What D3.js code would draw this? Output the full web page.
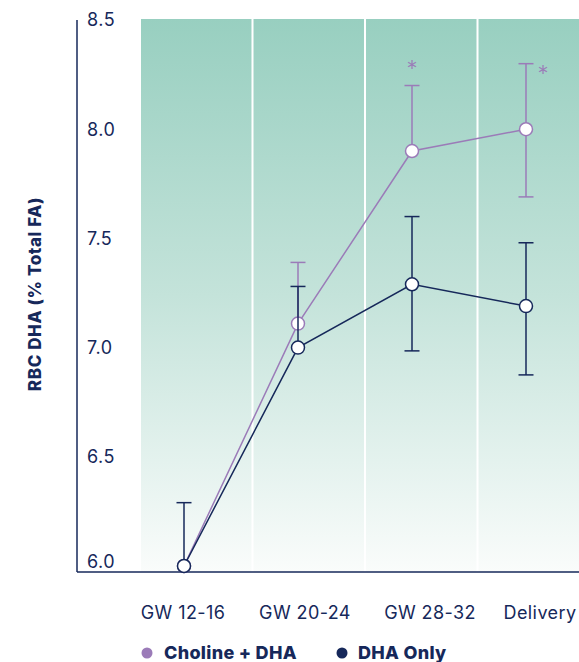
<!DOCTYPE html>
<html><head><meta charset="utf-8">
<script src="https://cdn.jsdelivr.net/npm/d3@7"></script>
<style>body{margin:0;background:#fff}svg{display:block}text{font-family:Inter,"Open Sans",sans-serif}</style>
</head><body><svg id="c" width="579" height="662"></svg>
<script>
const categories = ["GW 12-16","GW 20-24","GW 28-32","Delivery"];
const yTicks = [6.0,6.5,7.0,7.5,8.0,8.5];
const cholineMean = [6.0,7.11,7.90,8.00];
const cholineUpper = [null,7.39,8.20,8.30];
const cholineLower = [null,null,null,7.69];
const dhaMean = [6.0,7.0,7.29,7.19];
const dhaUpper = [6.29,7.28,7.60,7.48];
const dhaLower = [null,null,6.985,6.875];
const asterisks = [null,null,"*","*"];
const seriesNames = ["Choline + DHA","DHA Only"];

const navy="#16285a", purple="#9b7bb8";
const svg=d3.select("#c");
const y=d3.scaleLinear().domain([6,8.5]).range([566,20]);
const xPt=d3.scalePoint().domain(categories).range([184,526]);
const xBand=d3.scaleBand().domain(categories).range([141,589]).paddingInner(0.018);

const defs=svg.append("defs");
const g=defs.append("linearGradient").attr("id","bg").attr("gradientUnits","userSpaceOnUse")
  .attr("x1",0).attr("x2",0).attr("y1",19).attr("y2",572);
g.append("stop").attr("offset","0%").attr("stop-color","#98cfc0");
g.append("stop").attr("offset","50%").attr("stop-color","#c4e3da");
g.append("stop").attr("offset","80%").attr("stop-color","#e4f2ee");
g.append("stop").attr("offset","100%").attr("stop-color","#fafcfb");

svg.selectAll("rect.bg").data(categories).join("rect").attr("class","bg")
  .attr("x",d=>xBand(d)).attr("width",xBand.bandwidth())
  .attr("y",19).attr("height",572-19).attr("fill","url(#bg)");

// axes
svg.append("line").attr("x1",77).attr("x2",77).attr("y1",20).attr("y2",572).attr("stroke",navy).attr("stroke-width",1.5);
svg.append("line").attr("x1",77).attr("x2",579).attr("y1",572).attr("y2",572).attr("stroke",navy).attr("stroke-width",1.5);
svg.selectAll("text.yt").data(yTicks).join("text").attr("class","yt")
  .attr("x",87).attr("y",d=>y(d)-(d===6?4:0)).attr("dy","0.35em").attr("fill",navy).attr("font-size",18)
  .attr("letter-spacing",0.5).text(d=>d3.format(".1f")(d));
svg.selectAll("text.xt").data(categories).join("text").attr("class","xt")
  .attr("x",(d,i)=>[183,305,430,540][i]).attr("y",619).attr("text-anchor","middle").attr("fill",navy).attr("font-size",18)
  .attr("letter-spacing",0.4).text(d=>d);
svg.append("text").attr("transform","translate(41,294) rotate(-90)").attr("text-anchor","middle")
  .attr("font-weight",800).attr("font-size",17).attr("letter-spacing",0.6).attr("fill",navy).text("RBC DHA (% Total FA)");

function drawSeries(mean,upper,lower,color){
  const grp=svg.append("g");
  const cap=15;
  categories.forEach((c,i)=>{
    const x=xPt(c);
    [upper[i],lower[i]].forEach(v=>{
      if(v==null) return;
      grp.append("line").attr("x1",x).attr("x2",x).attr("y1",y(mean[i])).attr("y2",y(v)).attr("stroke",color).attr("stroke-width",1.5);
      grp.append("line").attr("x1",x-cap/2).attr("x2",x+cap/2).attr("y1",y(v)).attr("y2",y(v)).attr("stroke",color).attr("stroke-width",1.5);
    });
  });
  grp.append("path").datum(mean).attr("fill","none").attr("stroke",color).attr("stroke-width",1.5)
    .attr("d",d3.line().x((d,i)=>xPt(categories[i])).y(d=>y(d)));
  grp.selectAll("circle").data(mean).join("circle").attr("cx",(d,i)=>xPt(categories[i])).attr("cy",d=>y(d))
    .attr("r",6.5).attr("fill","#fff").attr("stroke",color).attr("stroke-width",1.5);
}
drawSeries(cholineMean,cholineUpper,cholineLower,purple);
drawSeries(dhaMean,dhaUpper,dhaLower,navy);

// asterisks
svg.selectAll("text.ast").data(asterisks).join("text").attr("class","ast")
  .attr("x",(d,i)=>xPt(categories[i])+(i===3?17:0))
  .attr("y",(d,i)=>i===3?y(cholineUpper[i])+17:y(cholineUpper[i])-10)
  .attr("text-anchor","middle").attr("fill",purple).attr("font-size",22).attr("font-weight",300).text(d=>d||"");

// legend
const lg=svg.append("g");
[[147,164,purple],[342,358,navy]].forEach((p,i)=>{
  lg.append("circle").attr("cx",p[0]).attr("cy",653).attr("r",5.5).attr("fill",p[2]);
  lg.append("text").attr("x",p[1]).attr("y",653).attr("dy","0.35em").attr("font-size",18).attr("font-weight",800)
    .attr("letter-spacing",0.3).attr("fill",navy).text(seriesNames[i]);
});
</script></body></html>
